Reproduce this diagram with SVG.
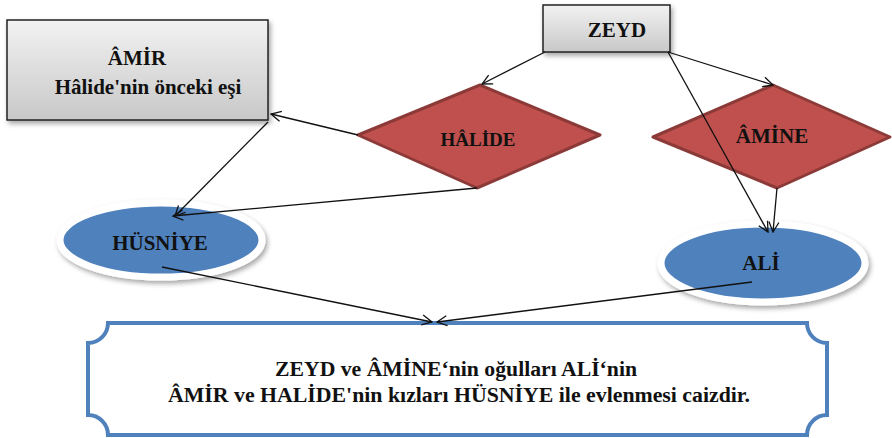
<svg xmlns="http://www.w3.org/2000/svg" width="892" height="438" viewBox="0 0 892 438">
<style>
text{font-family:"Liberation Serif","Times New Roman",serif;font-weight:bold;font-size:21px;fill:#111;text-anchor:middle}
.note{font-size:20px}
.box{fill:url(#g);stroke:#222;stroke-width:1.5}
.dia{fill:#c0504d;stroke:#8c3a38;stroke-width:3;stroke-linejoin:round}
.ell{fill:#4f81bd;stroke:#fff;stroke-width:7}
.c{stroke:#111;stroke-width:1.3;fill:none;marker-end:url(#a)}
</style>
<defs>
<linearGradient id="g" x1="0" y1="0" x2="0" y2="1">
<stop offset="0" stop-color="#f2f2f2"/><stop offset="1" stop-color="#c8c8c8"/>
</linearGradient>
<filter id="sh" x="-10%" y="-10%" width="130%" height="140%">
<feDropShadow dx="2" dy="3" stdDeviation="2.5" flood-color="#000" flood-opacity="0.35"/>
</filter>
<marker id="a" viewBox="0 0 12 12" refX="11" refY="6" markerWidth="12" markerHeight="12" markerUnits="userSpaceOnUse" orient="auto">
<path d="M1,1 L11,6 L1,11" fill="none" stroke="#111" stroke-width="1.3"/>
</marker>
</defs>
<g id="amir">
<rect class="box" x="7" y="20" width="261" height="100" filter="url(#sh)"/>
<text x="137" y="65">ÂMİR</text>
<text x="148" y="94">Hâlide'nin  önceki eşi</text>
</g>
<g id="zeyd">
<rect class="box" x="543" y="5" width="127" height="47" filter="url(#sh)"/>
<text x="617" y="37">ZEYD</text>
</g>
<g id="halide">
<polygon class="dia" points="358,135 480,85 600,135 477,188"/>
<text x="478" y="146" style="font-size:19px">HÂLİDE</text>
</g>
<g id="amine">
<polygon class="dia" points="653,137 773,85 890,137 777,188"/>
<text x="772" y="143">ÂMİNE</text>
</g>
<g id="husniye">
<ellipse class="ell" cx="161" cy="240" rx="101" ry="37" filter="url(#sh)"/>
<text x="160" y="250">HÜSNİYE</text>
</g>
<g id="ali">
<ellipse class="ell" cx="763" cy="263" rx="102" ry="39" filter="url(#sh)"/>
<text x="761" y="270">ALİ</text>
</g>
<g id="note">
<path d="M108,323 L807,323 A20,20 0 0 0 827,343 L827,415 A20,20 0 0 0 807,435 L108,435 A20,20 0 0 0 88,415 L88,343 A20,20 0 0 0 108,323 Z" fill="#fff" stroke="#4f81bd" stroke-width="4"/>
<text class="note" x="456" y="376" textLength="362" lengthAdjust="spacingAndGlyphs">ZEYD ve ÂMİNE‘nin oğulları ALİ‘nin</text>
<text class="note" x="459" y="402" textLength="582" lengthAdjust="spacingAndGlyphs">ÂMİR ve HALİDE'nin kızları HÜSNİYE ile evlenmesi caizdir.</text>
</g>
<g id="connectors">
<line class="c" x1="545" y1="52" x2="482" y2="84"/>
<line class="c" x1="668" y1="52" x2="773" y2="85"/>
<line class="c" x1="668" y1="52" x2="768" y2="232"/>
<line class="c" x1="777" y1="188" x2="773" y2="232"/>
<line class="c" x1="358" y1="135" x2="271" y2="114"/>
<line class="c" x1="477" y1="188" x2="173" y2="216"/>
<line class="c" x1="268" y1="122" x2="175" y2="216"/>
<line class="c" x1="162" y1="267" x2="432" y2="322"/>
<line class="c" x1="752" y1="282" x2="437" y2="322"/>
</g>
</svg>
